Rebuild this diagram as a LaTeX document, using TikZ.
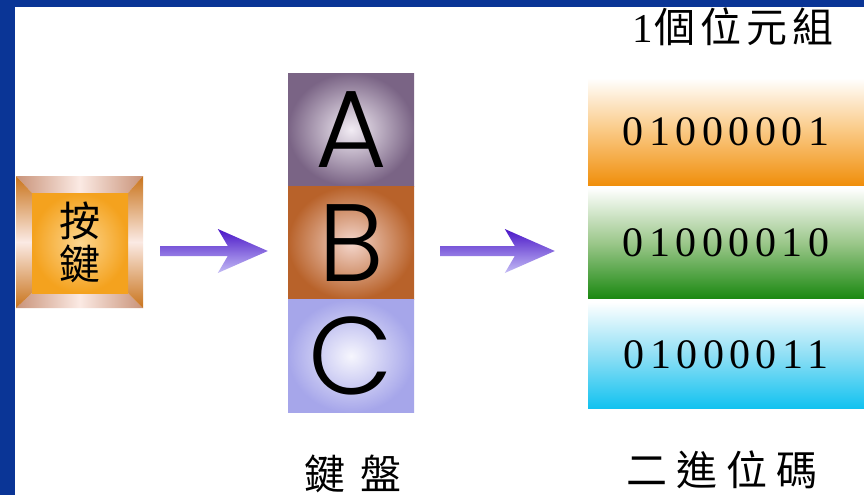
\documentclass[tikz,border=0pt]{standalone}
\usepackage{fontspec}
\setmainfont{Liberation Serif}
\newfontfamily\cjk{Noto Sans CJK TC}
\newfontfamily\digitfont[LetterSpace=13]{Liberation Serif}
\newfontfamily\letterfont{Poppins Light}
\usetikzlibrary{calc}
\definecolor{bgblue}{HTML}{0A3596}
\definecolor{keyorange}{HTML}{F4A21E}
\definecolor{keylight}{HTML}{FCD690}
\definecolor{bevbrown}{HTML}{C9741C}
\definecolor{bevpink}{HTML}{C99379}
\definecolor{bevlight}{HTML}{FBEAE4}
\definecolor{aouter}{HTML}{7A6485}
\definecolor{ainner}{HTML}{F2ECF4}
\definecolor{bouter}{HTML}{B8622A}
\definecolor{binner}{HTML}{F4D6CC}
\definecolor{couter}{HTML}{A6A6EA}
\definecolor{cinner}{HTML}{F6F6FD}
\definecolor{arrowtop}{HTML}{4A16C8}
\definecolor{arrowbot}{HTML}{C4BCF5}
\definecolor{orbot}{HTML}{F08F0C}
\definecolor{ormid}{HTML}{FAC882}
\definecolor{grbot}{HTML}{1C8912}
\definecolor{grmid}{HTML}{9BC78A}
\definecolor{cybot}{HTML}{12C2F0}
\definecolor{cymid}{HTML}{8FDFF5}
\newcommand\fatarrow[2]{%
  \shade[arrowshade] ($(#1)+(0,-5)$) -- ($(#2)+(-40,-5)$) -- ($(#2)+(-50,-22)$) -- (#2)
    -- ($(#2)+(-50,22)$) -- ($(#2)+(-40,5)$) -- ($(#1)+(0,5)$) -- cycle;}
\begin{document}
\begin{tikzpicture}[x=1pt,y=-1pt,
  arrowshade/.style={top color=arrowtop, bottom color=arrowbot},
  letterbox/.style={minimum width=126pt, minimum height=113pt, inner sep=0pt, font=\letterfont\fontsize{110}{110}\selectfont},
  bytebar/.style={minimum width=276pt, inner sep=0pt, font=\digitfont\fontsize{42}{42}\selectfont},
  cjklabel/.style={inner sep=0pt, font=\cjk\fontsize{41}{41}\selectfont}]
\useasboundingbox (0,0) rectangle (864,495);
\fill[bgblue] (0,0) rectangle (864,495);
\fill[white] (15,7) rectangle (864,495);
% key frame
\shade[left color=bevpink, right color=bevpink, middle color=bevlight] (16,176) -- (143,176) -- (128,193) -- (32,193) -- cycle;
\shade[left color=bevpink, right color=bevpink, middle color=bevlight] (16,308) -- (143,308) -- (128,293) -- (32,293) -- cycle;
\shade[top color=bevbrown, bottom color=bevbrown, middle color=bevlight] (16,176) -- (32,193) -- (32,293) -- (16,308) -- cycle;
\shade[top color=bevbrown, bottom color=bevbrown, middle color=bevlight] (143,176) -- (128,193) -- (128,293) -- (143,308) -- cycle;
\shade[inner color=keylight, outer color=keyorange] (32,193) rectangle (128,293);
\node[minimum width=127pt, minimum height=132pt, inner sep=0pt, align=center,
  font=\cjk\fontsize{41}{43}\selectfont] (key) at (79.5,242) {按\\鍵};
% letter boxes
\node[letterbox, inner color=ainner, outer color=aouter] (boxA) at (351,129.5) {A};
\node[letterbox, inner color=binner, outer color=bouter] (boxB) at (351,243) {B};
\node[letterbox, inner color=cinner, outer color=couter] (boxC) at (351,356) {C};
% byte bars
\node[bytebar, minimum height=107pt, top color=white, bottom color=orbot, middle color=ormid] (byteA) at (726,131.5) {01000001};
\node[bytebar, minimum height=110pt, top color=white, bottom color=grbot, middle color=grmid] (byteB) at (726,243) {01000010};
\node[bytebar, minimum height=106pt, top color=white, bottom color=cybot, middle color=cymid] (byteC) at (726,355) {01000011};
% labels
\node[cjklabel] (title) at (733,27) {{\rmfamily 1}\hspace{2pt}個\hspace{5pt}位\hspace{5pt}元\hspace{5pt}組};
\node[cjklabel] (kb) at (353,474) {鍵\hspace{15pt}盤};
\node[cjklabel] (bin) at (722,470) {二\hspace{9pt}進\hspace{9pt}位\hspace{9pt}碼};
% arrows
\coordinate (a1s) at ($(key.east)+(17,9)$);
\coordinate (a1e) at ($(boxB.west)+(-20,8)$);
\coordinate (a2s) at ($(boxB.east)+(26,8)$);
\coordinate (a2e) at ($(byteB.west)+(-33,8)$);
\fatarrow{a1s}{a1e}
\fatarrow{a2s}{a2e}
\end{tikzpicture}
\end{document}
